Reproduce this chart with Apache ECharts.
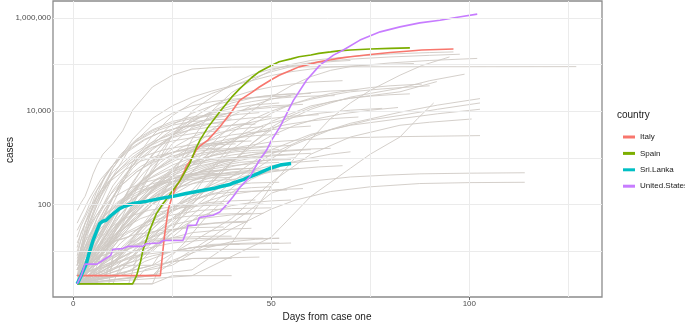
<!DOCTYPE html>
<html><head><meta charset="utf-8">
<script src="https://cdn.jsdelivr.net/npm/echarts@6/dist/echarts.min.js"></script>
<style>html,body{margin:0;padding:0;background:#fff}#c{width:685px;height:325px}</style>
</head><body><div id="c"></div>
<script>
// ---- data: [day, cases] ----
const italy = [[1,3],[22,3],[23,20],[24,79],[25,150],[26,240],[27,330],[28,500],[28.5,640],[30,1000],[31,1450],[32,1800],[34,2400],[37,4600],[40,9700],[42,17000],[45,25000],[47,33000],[50,47000],[52,59000],[55,75000],[57,89000],[60,103000],[62,114000],[65,126000],[67,135000],[70,147000],[75,164000],[80,180000],[85,195000],[88,204000],[92,210000],[96,214000]];
const spain = [[1,2],[15,2],[16,3],[17,6],[17.6,10.5],[19.3,28],[21,64],[22.7,105],[24.3,158],[27,330],[29.4,755],[31,1590],[32,2400],[34,4500],[36,7500],[37,9700],[40,20000],[42,30000],[45,52000],[47,70000],[50,95000],[52,114000],[55,132000],[57,146000],[60,160000],[62,173000],[65,186000],[67,196000],[70,204000],[75,214000],[80,221000],[85,227000]];
const sriLanka = [[1,2],[2,3],[3.3,5.4],[4,9],[5,17],[6,28],[6.7,39],[7.5,44],[8.3,46],[9.6,59],[11.7,82],[13,92],[15,105],[18.4,117],[21.8,134],[25.2,150],[28.5,173],[31.9,196],[35.3,220],[37,240],[39.5,268],[40.4,290],[42.9,343],[46.3,447],[49.7,600],[52.2,700],[55,755]];
const unitedStates = [[1,2],[2,3],[3,5.3],[6,5.3],[7.5,6.4],[9.5,8.2],[10,11],[12.5,11.4],[13.8,12.7],[17.6,12.7],[18.4,14.5],[21.8,15],[22.7,17],[27.7,17],[28.5,25],[29,36],[31,36],[31.9,53],[35.3,59],[37,69],[38.6,97],[40.3,145],[42,230],[44.6,390],[47,890],[48.8,1450],[50.1,2400],[52.2,4600],[55.6,17000],[58.9,46000],[62.3,97000],[65.7,159000],[68.2,204000],[72.4,333000],[77.5,500000],[82.5,640000],[87.5,780000],[92.6,890000],[97,1030000],[102,1200000]];

const greyUpper = [
 [[1,75],[2,110],[3,150],[4,250],[5,450],[6,700],[7.5,1200],[10,2000],[12.5,3800],[15,10500],[20,33000],[25,59000],[30,80000],[35,85000],[40,88000],[60,89000],[127,90000]],
 [[1,2],[10,5],[20,60],[25,400],[30,2500],[35,10000],[40,25000],[45,45000],[50,75000],[55,100000],[60,122000],[70,148000],[80,168000],[90,180000],[96,186000]],
 [[1,3],[8,15],[15,100],[20,500],[25,3000],[30,10000],[35,20000],[40,38000],[45,60000],[50,80000],[60,110000],[70,130000],[80,145000],[90,157000],[97.6,166000]],
 [[1,2],[5,5],[10,20],[20,100],[25,250],[30,700],[35,2000],[40,5000],[45,10000],[50,20000],[55,35000],[60,55000],[65,75000],[70,90000],[80,108000],[90,122000],[102,135000]],
 [[1,2],[30,4],[40,15],[45,60],[50,250],[55,800],[60,2500],[65,7000],[70,15000],[75,28000],[82.5,59000],[88,95000],[95,145000]],
 [[1,2],[15,5],[25,30],[30,100],[35,300],[40,800],[45,2000],[50,4000],[55,7000],[60,11000],[65,15000],[70,20000],[75,24000],[82.5,31000],[90,45000],[98.8,62000]],
 [[1,2],[10,6],[20,30],[30,200],[40,1500],[50,6000],[60,13000],[70,19000],[82.5,26000],[91.8,43000]],
 [[1,2],[3,20],[6,100],[10,600],[15,2500],[20,7000],[25,13000],[30,20000],[35,27000],[40,35000],[45,45000],[50,58000],[55,70000],[60,80000],[65,88000],[72,95000],[78,100000],[86,105000]],
 [[1,2],[5,10],[10,100],[15,800],[20,3000],[25,8000],[30,15000],[35,24000],[40,34000],[45,50000],[50,70000],[55,90000],[60,105000],[65,115000],[70,122000]]
];
const greyMid = [
 [[1,3],[20,10],[30,60],[40,300],[50,1200],[60,3000],[70,5500],[82.5,9500],[92,13500],[102.7,18600]],
 [[1,2],[10,4],[25,20],[35,100],[45,500],[55,1800],[65,4000],[75,6500],[82.5,8100],[92,11000],[102.7,15000]],
 [[1,2],[15,8],[30,80],[40,400],[50,1500],[60,3200],[70,5000],[82.5,6900],[92,8800],[102.7,11000]],
 [[1,2],[20,5],[40,50],[50,300],[60,1200],[70,2800],[82.5,5000],[90,5800],[100.6,6800]],
 [[1,3],[10,30],[20,200],[30,800],[40,1600],[50,2200],[60,2500],[70,2700],[82.5,2850],[102.7,3000]],
 [[1,2],[30,3],[50,20],[60,150],[70,600],[75,1200],[82.5,2800],[87,7000],[91,15000]],
 [[1,2],[20,3],[35,20],[45,80],[50,175],[55,240],[62,330],[70,390],[80,430],[87.5,455],[100,470],[114,480]],
 [[1,2],[25,5],[40,30],[50,80],[56,124],[65,190],[75,240],[87.5,282],[100,295],[114,300]],
 [[1,2],[15,10],[30,100],[40,800],[45,2000],[50,4500],[55,8000],[60,12000],[65,16000],[70,19000],[75,21000],[80,22500],[85,23500]],
 [[1,3],[10,20],[20,200],[30,1500],[35,4000],[40,8000],[45,13000],[50,18000],[55,22000],[60,25000],[65,27000],[72,28500]],
 [[1,2],[8,10],[15,150],[20,800],[25,3000],[30,7000],[35,13000],[40,20000],[45,27000],[50,33000],[55,38000],[60,42000],[68,45000]],
 [[1,5],[5,50],[10,400],[15,2000],[20,5000],[25,9000],[30,13000],[35,16000],[40,18000],[45,19500],[50,20500],[55,21000]],
 [[1,2],[5,8],[10,50],[15,300],[20,1200],[25,3000],[30,6000],[35,9500],[40,13000],[45,16000],[50,18500],[55,20000],[60,21000],[66,21500]],
 [[1,3],[10,8],[20,50],[30,500],[35,1500],[40,3500],[45,6500],[50,10000],[55,14000],[60,18000],[65,22000],[70,26000],[78,30000],[85,33000],[90,35000]],
 [[1,2],[10,15],[15,100],[20,600],[25,2000],[30,4500],[35,7000],[40,9500],[45,11500],[50,13000],[58,14000]],
 [[1,4],[6,30],[12,300],[18,1500],[24,4500],[30,9000],[36,14000],[42,18000],[48,21000],[54,23000],[60,24000]],
 [[1,2],[15,4],[25,30],[30,150],[35,600],[40,2000],[45,5000],[50,9000],[55,14000],[60,19000],[65,24000],[70,28000],[75,32000],[80,35000],[88,38000]],
 [[1,3],[10,15],[18,80],[24,250],[30,700],[36,1500],[42,2700],[48,4000],[54,5200],[60,6200],[66,7000],[72,7500]],
 [[1,2],[15,6],[25,40],[32,180],[38,600],[44,1500],[50,3000],[56,5000],[62,7000],[68,8800],[75,10500],[82,12000]],
 [[1,2],[12,10],[22,90],[30,500],[36,1400],[42,3000],[48,5000],[55,7200],[62,9000],[70,10500],[78,11500]],
 [[1,2],[8,8],[12,30],[16,90],[20,220],[24,500],[28,1000],[32,1800],[36,2900],[40,4200],[45,5800],[50,7000],[55,7800],[62,8400]]
];
const greyFan = [
 [[1,3],[5,20],[10,150],[15,600],[20,1500],[25,3000],[30,5000],[35,7500],[40,9500],[45,11000],[50,12000],[55,12800]],
 [[1,2],[4,8],[8,60],[12,300],[16,900],[20,2000],[25,4000],[30,6500],[35,9000],[40,11500],[45,13500],[52,15000]],
 [[1,5],[3,30],[6,150],[10,500],[15,1200],[20,2200],[25,3200],[30,4000],[35,4600],[40,5000],[46,5300]],
 [[1,2],[6,10],[10,40],[14,200],[18,700],[22,1800],[26,3500],[30,6000],[35,10000],[40,15000],[45,19000],[50,22000],[56,24000]],
 [[1,3],[7,15],[12,80],[17,300],[22,800],[27,1600],[32,2600],[37,3500],[42,4200],[48,4700]],
 [[1,4],[4,15],[8,80],[12,250],[16,500],[20,800],[25,1100],[30,1350],[35,1500],[40,1600],[44,1650]],
 [[1,2],[5,6],[10,25],[15,90],[20,250],[25,500],[30,800],[35,1100],[40,1400],[45,1600],[50,1750],[55,1850]],
 [[1,8],[3,40],[6,200],[10,700],[14,1500],[18,2500],[22,3500],[27,4500],[32,5200],[38,5700]],
 [[1,2],[3,10],[6,50],[10,200],[15,700],[20,1600],[25,2800],[30,4200],[35,5500],[40,6500],[45,7200],[50,7600]],
 [[1,3],[8,10],[14,50],[20,200],[25,500],[30,1000],[35,1700],[40,2500],[45,3300],[50,4000],[55,4500],[60,4800]],
 [[1,2],[4,5],[8,20],[12,60],[16,150],[20,300],[25,500],[30,700],[35,850],[40,950],[46,1000]],
 [[1,6],[3,25],[5,100],[8,400],[12,1200],[16,2500],[20,4000],[25,6000],[30,7500],[35,8500],[40,9000]],
 [[1,2],[6,4],[10,12],[15,40],[20,100],[25,200],[30,320],[35,420],[40,500],[45,540],[52,560]],
 [[1,3],[5,12],[9,45],[13,130],[17,300],[21,550],[26,900],[31,1200],[36,1400],[42,1550]],
 [[1,2],[8,3],[12,8],[16,25],[20,70],[25,160],[30,280],[35,380],[40,450],[48,500]],
 [[1,4],[4,20],[7,80],[10,250],[14,700],[18,1500],[22,2600],[27,4200],[32,6000],[37,7500],[42,8600],[47,9300]],
 [[1,2],[3,4],[6,15],[10,60],[14,200],[18,500],[22,1000],[26,1800],[30,2800],[35,4000],[40,5000],[45,5700]],
 [[1,3],[6,8],[11,30],[16,100],[21,250],[26,450],[31,650],[36,800],[41,900]],
 [[1,2],[10,4],[15,10],[20,30],[25,70],[30,120],[35,170],[40,210],[45,230],[50,240]],
 [[1,5],[4,40],[7,200],[10,600],[13,1300],[16,2300],[20,3800],[25,5500],[30,7000],[35,8000]],
 [[1,2],[5,3],[9,10],[13,35],[17,90],[21,180],[25,300],[30,420],[35,500],[40,560],[45,600]],
 [[1,3],[4,8],[8,30],[12,100],[16,250],[20,500],[24,900],[28,1400],[32,2000],[36,2600],[40,3100],[45,3500],[50,3800]],
 [[1,2],[7,5],[12,15],[18,40],[24,80],[30,130],[36,170],[42,190],[50,200],[54,205]],
 [[1,2],[2,10],[4,40],[7,150],[10,400],[14,900],[18,1600],[22,2300],[27,3000],[32,3500],[37,3800]],
 [[1,4],[5,10],[9,25],[13,55],[17,100],[21,160],[26,230],[31,290],[36,330],[41,350]],
 [[1,28],[3,60],[5,150],[8,400],[11,900],[15,2000],[20,3500],[25,5000],[30,6000],[35,6500],[40,6800]],
 [[1,15],[3,40],[6,120],[9,300],[12,600],[16,1100],[20,1700],[25,2300],[30,2700],[35,2900]],
 [[1,40],[2,60],[4,130],[7,350],[10,700],[14,1400],[18,2400],[22,3500],[27,4500],[32,5000]],
 [[1,2],[3,6],[6,20],[10,70],[14,180],[18,380],[22,650],[26,1000],[30,1400],[34,1800],[38,2100],[43,2350]],
 [[1,7],[3,20],[6,60],[9,150],[13,350],[17,650],[21,1000],[26,1400],[31,1700],[36,1900],[41,2000]],
 [[1,2],[5,10],[9,40],[13,120],[17,280],[21,550],[25,950],[30,1500],[35,2100],[40,2600],[46,3000],[52,3200]],
 [[1,20],[2,35],[4,80],[7,200],[10,400],[14,750],[18,1100],[23,1500],[28,1800],[33,2000],[38,2100]],
 [[1,12],[2,25],[4,60],[6,140],[9,300],[13,550],[17,850],[22,1150],[27,1400],[32,1550],[37,1620]]
];
const greyMidLow = [
 [[1,2],[5,5],[10,20],[15,60],[20,150],[25,300],[30,500],[35,700],[40,900],[45,1050],[50,1150],[55,1200],[60,1250]],
 [[1,3],[8,10],[14,40],[20,120],[26,280],[32,500],[38,750],[44,950],[50,1100],[56,1180]],
 [[1,2],[6,6],[12,30],[18,100],[24,250],[30,450],[36,650],[42,800],[48,880],[55,920]],
 [[1,2],[10,5],[18,25],[25,80],[32,200],[38,350],[44,520],[50,680],[56,800],[62,880]],
 [[1,4],[5,15],[10,60],[15,180],[20,400],[25,700],[30,1000],[35,1300],[40,1550],[45,1700],[50,1800]],
 [[1,2],[4,4],[9,15],[14,50],[19,120],[24,220],[29,330],[34,420],[40,480],[46,510]],
 [[1,2],[12,4],[20,20],[26,60],[32,140],[38,250],[44,380],[50,500],[56,580],[62,640],[68,680]],
 [[1,3],[6,12],[11,50],[16,150],[21,350],[26,600],[31,900],[36,1150],[41,1350],[46,1450],[52,1500]],
 [[1,2],[20,3],[28,15],[34,60],[40,180],[45,350],[50,550],[55,800],[60,1000],[65,1200],[70,1350]],
 [[1,2],[8,4],[15,15],[22,50],[29,130],[36,260],[43,400],[50,520],[57,600]],
 [[1,5],[4,20],[8,80],[12,250],[16,500],[20,850],[25,1300],[30,1700],[35,2000],[40,2200],[45,2300]],
 [[1,2],[6,10],[12,50],[18,150],[24,320],[30,550],[36,800],[42,1050],[48,1250],[54,1400],[60,1500]],
 [[1,5],[2,12],[5,30],[9,70],[13,120],[18,200],[24,300],[30,380],[36,420],[42,440]],
 [[1,2],[6,2],[7,5],[12,9],[16,20],[20,45],[25,90],[30,150],[35,210],[40,260],[45,290],[52,300]],
 [[1,3],[2,8],[4,20],[7,50],[11,110],[15,190],[20,280],[26,370],[32,430],[38,460]],
 [[1,2],[4,3],[8,12],[12,40],[16,110],[20,240],[25,450],[30,700],[35,950],[40,1150],[45,1300],[50,1380]],
 [[1,10],[2,18],[4,35],[7,80],[10,140],[14,220],[18,300],[23,380],[28,430],[34,460],[40,470]],
 [[1,3],[5,6],[10,18],[15,45],[20,100],[25,190],[30,320],[35,480],[40,650],[45,800],[50,920],[56,1000]],
 [[1,4],[3,10],[6,25],[10,60],[15,130],[20,230],[25,350],[30,460],[36,540],[42,580]],
 [[1,3],[7,6],[12,20],[17,60],[22,150],[27,300],[32,520],[37,780],[42,1050],[48,1300],[54,1450],[60,1550],[65,1600]],
 [[1,2],[2,5],[5,15],[9,45],[13,100],[18,200],[23,320],[28,430],[34,520],[40,570],[46,600]],
 [[1,2],[4,4],[7,12],[11,35],[15,80],[19,160],[24,280],[29,420],[34,560],[40,680],[46,760],[52,800]],
 [[1,5],[3,12],[7,40],[11,100],[15,200],[19,350],[24,550],[29,750],[34,900],[39,1000],[44,1050]],
 [[1,2],[2,4],[3,9],[5,25],[8,60],[12,120],[17,200],[22,280],[28,340],[34,370],[40,380]]
];
const greyLow = [
 [[1,2],[10,2],[12,5],[20,5],[22,9],[30,12],[38,14],[42,14]],
 [[1,3],[5,3],[7,8],[15,12],[20,18],[28,20],[35,21],[40,21]],
 [[1,2],[15,2],[18,4],[25,6],[30,7],[40,7]],
 [[1,2],[4,6],[10,10],[18,16],[25,18],[35,19],[48,19]],
 [[1,3],[8,3],[10,7],[16,14],[22,25],[30,35],[36,40],[44,42]],
 [[1,2],[20,2],[25,3],[40,3]],
 [[1,2],[12,3],[18,6],[25,10],[35,14],[45,15],[52,15]],
 [[1,2],[10,3],[20,5],[30,7],[47,7.5]],
 [[1,2],[6,4],[15,8],[25,10],[35,11],[52,11]],
 [[1,3],[8,5],[15,10],[25,15],[35,18],[52,19]],
 [[1,2],[3,5],[8,12],[14,25],[20,40],[28,55],[35,62],[45,65]],
 [[1,4],[6,10],[12,22],[18,40],[25,60],[32,75],[40,82],[50,85]],
 [[1,2],[5,3],[12,5],[20,8],[30,12],[40,14],[55,15]],
 [[1,2],[8,6],[16,18],[24,35],[32,50],[40,60],[48,65]],
 [[1,3],[10,6],[20,15],[30,25],[40,30],[45,31]],
 [[1,2],[2,3],[6,9],[10,16],[15,22],[22,28],[30,32],[38,33]],
 [[1,2],[3,2],[4,6],[8,6],[9,15],[14,20],[18,40],[22,60],[28,90],[34,110],[40,120],[46,125]],
 [[1,2],[9,2],[10,8],[15,12],[20,20],[26,30],[32,38],[38,42],[44,44]],
 [[1,2],[14,2],[16,7],[20,12],[25,25],[30,45],[35,70],[40,95],[45,110],[50,120],[55,125]],
 [[1,2],[11,3],[15,8],[19,20],[24,45],[29,80],[34,120],[39,160],[45,190],[52,210],[58,220]],
 [[1,3],[2,4],[4,9],[7,20],[10,35],[14,55],[19,75],[25,90],[31,100],[38,105]],
 [[1,2],[20,2],[22,5],[28,8],[34,12],[40,16],[46,18],[52,19]],
 [[1,2],[3,3],[5,8],[9,18],[13,32],[17,50],[22,70],[27,85],[33,95],[40,100],[48,102]]
];

const xTickValues = [0, 50, 100];
const yTickValues = [100, 10000, 1000000];
const xGridValues = [0, 25, 50, 75, 100, 125];
const yGridValues = [10, 100, 1000, 10000, 100000, 1000000];

// ---- chart ----
const FONT = 'Liberation Sans, Arial, sans-serif';
const toLog = pts => pts.map(p => [p[0], Math.log10(p[1])]);
const chart = echarts.init(document.getElementById('c'), null, {renderer: 'canvas'});

const series = [];
series.push({
  type: 'line', data: [], silent: true, z: 1,
  markLine: {
    silent: true, symbol: ['none', 'none'], label: {show: false}, animation: false,
    lineStyle: {color: '#ebebeb', width: 1, type: 'solid'},
    emphasis: {disabled: true},
    data: yGridValues.map(v => ({yAxis: Math.log10(v)})).concat(xGridValues.map(v => ({xAxis: v})))
  }
});
[].concat(greyUpper, greyMid, greyFan, greyMidLow, greyLow).forEach(pts => {
  series.push({
    type: 'line', data: toLog(pts), showSymbol: false, silent: true, z: 2,
    lineStyle: {color: '#cfcac4', width: 0.9}, emphasis: {disabled: true}
  });
});
const hl = [
  ['Italy', italy, '#F8766D', 1.6],
  ['Spain', spain, '#7CAE00', 1.6],
  ['Sri.Lanka', sriLanka, '#00BFC4', 3.5],
  ['United.States', unitedStates, '#C77CFF', 1.6]
];
hl.forEach(([name, pts, color, w]) => {
  series.push({
    name, type: 'line', data: toLog(pts), showSymbol: false, silent: true, z: 3,
    color, lineStyle: {color, width: w}, emphasis: {disabled: true}
  });
});

chart.setOption({
  animation: false,
  backgroundColor: '#ffffff',
  grid: {left: 53, right: 83, top: 1, bottom: 28, show: true, borderColor: '#8c8c8c', borderWidth: 1.3, backgroundColor: '#ffffff'},
  xAxis: {
    type: 'value', min: -5.1, max: 133.5,
    axisLine: {show: false}, splitLine: {show: false},
    axisTick: {show: true, customValues: xTickValues, length: 3, lineStyle: {color: '#666'}},
    axisLabel: {customValues: xTickValues, fontSize: 8, color: '#4d4d4d', margin: 3, fontFamily: FONT}
  },
  yAxis: {
    type: 'value', min: 0.02, max: 6.36,
    axisLine: {show: false}, splitLine: {show: false},
    axisTick: {show: true, customValues: yTickValues.map(Math.log10), length: 3, lineStyle: {color: '#666'}},
    axisLabel: {customValues: yTickValues.map(Math.log10), fontSize: 8, color: '#4d4d4d', margin: 2, fontFamily: FONT,
      formatter: v => Math.round(Math.pow(10, v)).toLocaleString('en-US')}
  },
  legend: {
    orient: 'vertical', left: 618, top: 126, itemWidth: 12, itemHeight: 3, itemGap: 4.4, icon: 'rect',
    selectedMode: false,
    textStyle: {fontSize: 8, color: '#1a1a1a', lineHeight: 12, fontFamily: FONT},
    data: hl.map(h => h[0])
  },
  graphic: [
    {type: 'text', x: 10, y: 150, rotation: Math.PI / 2, style: {text: 'cases', fontSize: 10, fill: '#1a1a1a', fontFamily: FONT, textAlign: 'center', textVerticalAlign: 'middle'}},
    {type: 'text', x: 327, y: 317, style: {text: 'Days from case one', fontSize: 10, fill: '#1a1a1a', fontFamily: FONT, textAlign: 'center', textVerticalAlign: 'middle'}},
    {type: 'text', x: 617, y: 115, style: {text: 'country', fontSize: 10, fill: '#1a1a1a', fontFamily: FONT, textAlign: 'left', textVerticalAlign: 'middle'}}
  ],
  series
});
</script></body></html>
